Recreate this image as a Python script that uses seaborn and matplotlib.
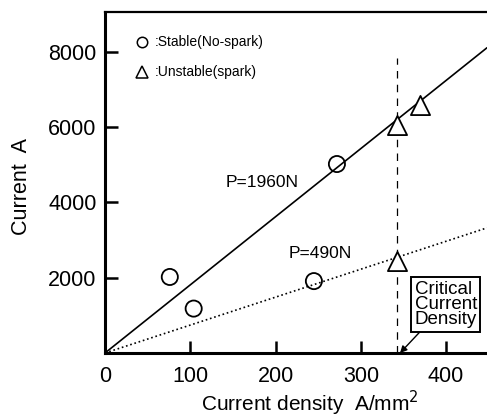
import matplotlib
matplotlib.use("Agg")
import matplotlib.pyplot as plt
import numpy as np
import pandas as pd
import seaborn as sns

# measured points (current density A/mm2, current A)
stable_x = [76, 104, 245, 272]
stable_y = [2020, 1180, 1910, 5020]
unstable_x = [342, 369, 342]
unstable_y = [6050, 6600, 2440]

# fitted lines through origin, slope in A per A/mm2
line_labels = ["P=1960N", "P=490N"]
line_slopes = [18.1, 7.42]

critical_density = 342
x_ticks = [0, 100, 200, 300, 400]
y_ticks = [2000, 4000, 6000, 8000]

sns.set_theme(style="white")
plt.rcParams["font.family"] = ["Liberation Sans", "DejaVu Sans"]
plt.rcParams["text.color"] = "black"
plt.rcParams["axes.labelcolor"] = "black"
plt.rcParams["xtick.color"] = "black"
plt.rcParams["ytick.color"] = "black"

fig = plt.figure(figsize=(4.87, 4.19), dpi=100)
ax = fig.add_axes([0.2156, 0.1575, 0.7844, 0.814])
xmax, ymax = 448, 9060

stable = pd.DataFrame({"x": stable_x, "y": stable_y})
unstable = pd.DataFrame({"x": unstable_x, "y": unstable_y})
sns.scatterplot(data=stable, x="x", y="y", ax=ax, marker="o", s=135,
                facecolor="none", edgecolor="black", linewidth=1.3, zorder=4)
sns.scatterplot(data=unstable, x="x", y="y", ax=ax, marker="^", s=190,
                facecolor="white", edgecolor="black", linewidth=1.3, zorder=4)

xs = np.array([0, xmax])
for slope, style in zip(line_slopes, ["-", ":"]):
    fit = pd.DataFrame({"x": xs, "y": slope * xs})
    sns.lineplot(data=fit, x="x", y="y", ax=ax, color="black",
                 linewidth=1.2, linestyle=style, zorder=2)

ax.plot([critical_density, critical_density], [0, 7830], color="black",
        linewidth=0.9, linestyle=(0, (6, 5)), zorder=1)

ax.text(184, 4520, line_labels[0], fontsize=12.5, ha="center", va="center")
ax.text(252, 2650, line_labels[1], fontsize=12.5, ha="center", va="center")

# legend-like text
ax.plot([43], [8260], marker="o", ms=7.5, mfc="none", mec="black", mew=1.1)
ax.text(58, 8260, ":Stable(No-spark)", fontsize=10, va="center")
ax.plot([43], [7460], marker="^", ms=9, mfc="none", mec="black", mew=1.1)
ax.text(58, 7460, ":Unstable(spark)", fontsize=10, va="center")

ax.annotate("Critical\nCurrent\nDensity", xy=(346, 0), xytext=(363, 1290),
            fontsize=13.5, ha="left", va="center", linespacing=0.88,
            bbox=dict(boxstyle="square,pad=0.18", fc="white", ec="black", lw=1.4),
            arrowprops=dict(arrowstyle="-|>", color="black", lw=1.0,
                            shrinkA=0, shrinkB=0, mutation_scale=10))

ax.set_xlim(0, xmax)
ax.set_ylim(0, ymax)
ax.set_xticks(x_ticks)
ax.set_yticks(y_ticks)
ax.set_xticklabels([str(t) for t in x_ticks], fontsize=15.5)
ax.set_yticklabels([str(t) for t in y_ticks], fontsize=15.5)
ax.tick_params(axis="x", direction="in", length=9, width=1.8, pad=9, bottom=True)
ax.tick_params(axis="y", direction="in", length=9, width=1.8, pad=6, left=True)
ax.set_xlabel("Current density  A/mm$^2$", fontsize=15)
ax.set_ylabel("Current  A", fontsize=15.5)
ax.xaxis.set_label_coords(0.537, -0.105)
ax.yaxis.set_label_coords(-0.19, 0.487)
for name, sp in ax.spines.items():
    sp.set_color("black")
    sp.set_linewidth(2.2)
ax.spines["right"].set_visible(False)
ax.spines["top"].set_linewidth(1.6)

fig.savefig("out.png", dpi=100)
